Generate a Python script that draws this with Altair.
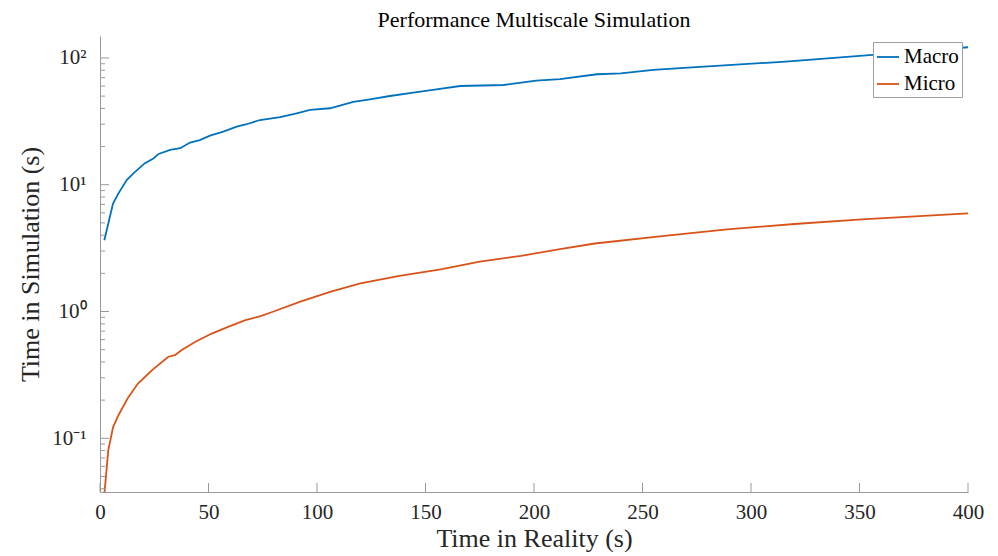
import altair as alt
import pandas as pd

# ---- data ----
macro_t = [2, 6, 8.5, 12.3, 15.4, 20.7, 24.6, 27, 32.3, 37, 41.5, 46, 50.7, 56.8, 63, 67.6,
           73.7, 83, 90.6, 96.8, 106, 116.7, 124.4, 133.6, 144.4, 155, 166, 186, 201, 212,
           229, 240, 255, 271, 316, 362, 400]
macro_v = [3.65, 7.1, 8.55, 10.9, 12.3, 14.8, 16.1, 17.5, 18.8, 19.4, 21.5, 22.5, 24.4, 26.2,
           28.7, 30.0, 32.4, 34.1, 36.6, 38.9, 40.1, 45.0, 47.2, 50.1, 53.2, 56.6, 60.1, 61.2,
           66.2, 68.0, 74.4, 75.7, 80.4, 84.0, 93.6, 107.6, 121.5]
micro_t = [2, 3.8, 6, 8.5, 13, 17.5, 24, 31.5, 34.5, 37.5, 44, 51.5, 59, 67, 74, 80, 92, 106,
           120, 138, 157, 175, 194, 212, 228, 259, 289, 320, 351, 400]
micro_v = [0.036, 0.08, 0.122, 0.152, 0.21, 0.27, 0.345, 0.44, 0.453, 0.495, 0.577, 0.67,
           0.757, 0.855, 0.92, 1.0, 1.19, 1.43, 1.67, 1.91, 2.15, 2.47, 2.75, 3.1, 3.44, 3.93,
           4.45, 4.9, 5.33, 5.95]
series_names = ["Macro", "Micro"]
series_colors = ["#0072BD", "#D95319"]

x_ticks = [0, 50, 100, 150, 200, 250, 300, 350, 400]
y_major = [0.1, 1, 10, 100]
y_minor = [0.04, 0.05, 0.06, 0.07, 0.08, 0.09,
           0.2, 0.3, 0.4, 0.5, 0.6, 0.7, 0.8, 0.9,
           2, 3, 4, 5, 6, 7, 8, 9,
           20, 30, 40, 50, 60, 70, 80, 90]
x_domain = [0, 400]
y_domain = [0.0377, 149]

title_text = "Performance Multiscale Simulation"
x_title = "Time in Reality (s)"
y_title = "Time in Simulation (s)"

# ---- build ----
FONT = "Liberation Serif"
AX = "#9a9a9a"
TXT = "#262626"
W, H = 868, 456

df = pd.concat([
    pd.DataFrame({"t": macro_t, "v": macro_v, "series": series_names[0]}),
    pd.DataFrame({"t": micro_t, "v": micro_v, "series": series_names[1]}),
])

xscale = alt.Scale(domain=x_domain, nice=False, zero=False)
yscale = alt.Scale(type="log", domain=y_domain, nice=False)

lines = alt.Chart(df).mark_line(strokeWidth=1.8, clip=True).encode(
    x=alt.X("t:Q", scale=xscale, title=x_title,
            axis=alt.Axis(values=x_ticks, labelPadding=9, labelFlush=False,
                          labelOverlap=False,
                          labelFontSize=21, titleFontSize=26, titleY=54,
                          titleBaseline="alphabetic")),
    y=alt.Y("v:Q", scale=yscale, title=y_title,
            axis=alt.Axis(values=y_major, labelPadding=14, labelFlush=False,
                          labelOverlap=False,
                          labelFontSize=21, titleFontSize=26, titleX=-62,
                          titleBaseline="alphabetic",
                          labelExpr="datum.value > 50 ? '10²' : datum.value > 5 ? '10¹' : datum.value > 0.5 ? '10⁰' : '10⁻¹'")),
    color=alt.Color("series:N",
                    scale=alt.Scale(domain=series_names, range=series_colors),
                    legend=alt.Legend(title=None, orient="top-right", offset=6,
                                      fillColor="white", strokeColor="#a0a0a0",
                                      padding=3, symbolType="stroke", symbolSize=484,
                                      symbolStrokeWidth=1.8, labelFont=FONT,
                                      labelFontSize=21, labelColor="#000000",
                                      rowPadding=5, labelOffset=4)),
)

ymaj = alt.Chart(pd.DataFrame({"v": y_major})).mark_rule(color=AX, strokeWidth=1).encode(
    y=alt.Y("v:Q", scale=yscale, title=y_title), x=alt.value(0), x2=alt.value(9))
ymin = alt.Chart(pd.DataFrame({"v": y_minor})).mark_rule(color=AX, strokeWidth=1).encode(
    y=alt.Y("v:Q", scale=yscale, title=y_title), x=alt.value(0), x2=alt.value(5))
xmaj = alt.Chart(pd.DataFrame({"t": x_ticks})).mark_rule(color=AX, strokeWidth=1).encode(
    x=alt.X("t:Q", scale=xscale, title=x_title), y=alt.value(H), y2=alt.value(H - 9))

chart = alt.layer(lines, ymaj, ymin, xmaj).properties(
    width=W, height=H,
    autosize=alt.AutoSizeParams(type="none"),
    padding={"left": 92, "top": 28, "right": 22, "bottom": 60},
    title=alt.TitleParams(title_text, anchor="middle",
                          offset=4, fontSize=22, font=FONT, fontWeight="normal",
                          color="#000000"),
).configure_view(stroke=None).configure_axis(
    grid=False, ticks=False, domainColor=AX, domainWidth=1,
    labelFont=FONT, titleFont=FONT, labelColor=TXT, titleColor=TXT,
    titleFontWeight="normal",
)

chart.save("out.html", embed_options={"renderer": "svg", "actions": False})
